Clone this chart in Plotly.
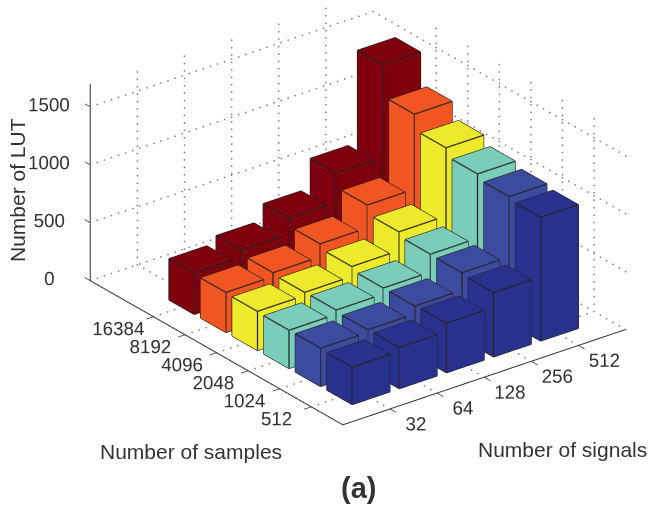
import plotly.graph_objects as go

signals = ["32", "64", "128", "256", "512"]
samples = ["512", "1024", "2048", "4096", "8192", "16384"]
lut_512 = [322, 355, 427, 555, 1065]
lut_1024 = [330, 352, 420, 570, 1090]
lut_2048 = [330, 367, 420, 575, 1130]
lut_4096 = [337, 364, 450, 612, 1200]
lut_8192 = [345, 378, 490, 688, 1335]
lut_16384 = [356, 417, 556, 810, 1605]
rows = [lut_512, lut_1024, lut_2048, lut_4096, lut_8192, lut_16384]
colors = ["#29318f", "#3b4ba0", "#79cdb9", "#ecea2a", "#f15522", "#7f000d"]
z_ticks = [0, 500, 1000, 1500]
X_BOX = [0, 6]
Y_BOX = [0, 8]
Z_BOX = [0, 1700]
X_RANGE = [-0.2, 6]        # a little room outside the box, so the tick marks are not clipped
Y_RANGE = [-0.2, 8.2]
Z_LABEL_LIFT = 90          # plotly draws 3D tick labels low; lifts the labels only, marks stay true
BAR = 0.8
EDGE = "#262223"
GRID = "#808080"
TEXT = "#333333"
FONT = "Liberation Sans"
DOT_X, DOT_Y, DOT_Z = 0.15, 0.2, 64

fig = go.Figure()
for r, (row, color) in enumerate(zip(rows, colors)):
    vx, vy, vz, ii, jj, kk = [], [], [], [], [], []
    ex, ey, ez = [], [], []
    for c, h in enumerate(row):
        x0, x1 = c + 1 - BAR / 2, c + 1 + BAR / 2
        y0, y1 = r + 1 - BAR / 2, r + 1 + BAR / 2
        n = len(vx)
        vx += [x0, x1, x1, x0, x0, x1, x1, x0]
        vy += [y0, y0, y1, y1, y0, y0, y1, y1]
        vz += [0, 0, 0, 0, h, h, h, h]
        quads = [(0, 1, 2, 3), (4, 5, 6, 7), (0, 1, 5, 4), (1, 2, 6, 5), (2, 3, 7, 6), (3, 0, 4, 7)]
        for a, b, cc, d in quads:
            ii += [n + a, n + a]
            jj += [n + b, n + cc]
            kk += [n + cc, n + d]
        for path in [(0, 1, 2, 3, 0), (4, 5, 6, 7, 4), (0, 4), (1, 5), (2, 6), (3, 7)]:
            ex += [vx[n + p] for p in path] + [None]
            ey += [vy[n + p] for p in path] + [None]
            ez += [vz[n + p] for p in path] + [None]
    fig.add_trace(go.Mesh3d(x=vx, y=vy, z=vz, i=ii, j=jj, k=kk, color=color, flatshading=True,
                            lighting=dict(ambient=1, diffuse=0, specular=0, fresnel=0, roughness=1),
                            hoverinfo="skip", showscale=False))
    fig.add_trace(go.Scatter3d(x=ex, y=ey, z=ez, mode="lines", line=dict(color=EDGE, width=2.5),
                               hoverinfo="skip", showlegend=False))


def frange(a, b, step):
    out = []
    t = a
    while t <= b + 1e-9:
        out.append(t)
        t += step
    return out


xt = list(range(1, len(signals) + 1))
yt = list(range(1, len(samples) + 1))
gx, gy, gz = [], [], []


def add_dots(xs, ys, zs):
    m = max(len(xs), len(ys), len(zs))
    gx.extend(xs if len(xs) == m else xs * m)
    gy.extend(ys if len(ys) == m else ys * m)
    gz.extend(zs if len(zs) == m else zs * m)


for v in xt:
    add_dots([v], frange(Y_BOX[0], Y_BOX[1], DOT_Y), [0])
    add_dots([v], [Y_BOX[1]], frange(Z_BOX[0], Z_BOX[1], DOT_Z))
for v in yt:
    add_dots(frange(X_BOX[0], X_BOX[1], DOT_X), [v], [0])
    add_dots([X_BOX[1]], [v], frange(Z_BOX[0], Z_BOX[1], DOT_Z))
for v in z_ticks:
    add_dots(frange(X_BOX[0], X_BOX[1], DOT_X), [Y_BOX[1]], [v])
    add_dots([X_BOX[1]], frange(Y_BOX[0], Y_BOX[1], DOT_Y), [v])
fig.add_trace(go.Scatter3d(x=gx, y=gy, z=gz, mode="markers",
                           marker=dict(color=GRID, size=1, line=dict(width=0)),
                           hoverinfo="skip", showlegend=False))

tx, ty, tz = [], [], []
for v in xt:
    tx += [v, v, None]
    ty += [0, -0.2, None]
    tz += [0, 0, None]
for v in yt:
    tx += [0, -0.15, None]
    ty += [v, v, None]
    tz += [0, 0, None]
for v in z_ticks:
    tx += [0, 0, None]
    ty += [8, 8.17, None]
    tz += [v, v, None]
fig.add_trace(go.Scatter3d(x=tx, y=ty, z=tz, mode="lines", line=dict(color=TEXT, width=1.5),
                           hoverinfo="skip", showlegend=False))
fig.add_trace(go.Scatter3d(x=[X_BOX[1], 0, 0, None, 0, 0],
                           y=[0, 0, Y_BOX[1], None, Y_BOX[1], Y_BOX[1]],
                           z=[0, 0, 0, None, 0, Z_BOX[1]],
                           mode="lines", line=dict(color=TEXT, width=2),
                           hoverinfo="skip", showlegend=False))

axis = dict(showgrid=False, zeroline=False, showbackground=False, showspikes=False, showline=False,
            ticks="outside", tickcolor="rgba(0,0,0,0)", tickwidth=1,
            tickangle=0, tickfont=dict(family=FONT, size=15, color=TEXT), title=dict(text=""))
fig.update_layout(
    width=649, height=508, margin=dict(l=0, r=0, t=0, b=0), showlegend=False,
    paper_bgcolor="white", font=dict(family=FONT, color=TEXT),
    scene=dict(
        domain=dict(x=[0, 1], y=[0, 1]),
        aspectmode="manual", aspectratio=dict(x=1.4508, y=1.7136, z=0.863),
        camera=dict(projection=dict(type="orthographic"), eye=dict(x=-1.782, y=-2.133, z=1.155),
                    center=dict(x=-0.138, y=0.006, z=-0.162), up=dict(x=0, y=0, z=1)),
        xaxis=dict(axis, range=X_RANGE, tickmode="array", tickvals=xt, ticktext=signals, ticklen=14),
        yaxis=dict(axis, range=Y_RANGE, tickmode="array", tickvals=yt, ticktext=samples, ticklen=14),
        zaxis=dict(axis, range=Z_BOX, tickmode="array", tickvals=[v + Z_LABEL_LIFT for v in z_ticks],
                   ticktext=[str(v) for v in z_ticks], ticklen=6),
    ),
    annotations=[
        dict(text="Number of samples", x=191, y=451, showarrow=False, font=dict(size=21, color=TEXT)),
        dict(text="Number of signals", x=562, y=449, showarrow=False, font=dict(size=21, color=TEXT)),
        dict(text="Number of LUT", x=17, y=190, textangle=-90, showarrow=False, font=dict(size=21, color=TEXT)),
        dict(text="<b>(a)</b>", x=358, y=488, showarrow=False, font=dict(size=29, color=TEXT)),
    ],
)
for a in fig.layout.annotations:
    a.update(xref="paper", yref="paper", x=a.x / 649, y=1 - a.y / 508, xanchor="center", yanchor="middle")
fig.write_html("out.html", post_script="document.body.style.margin='0';", config=dict(displayModeBar=False))
